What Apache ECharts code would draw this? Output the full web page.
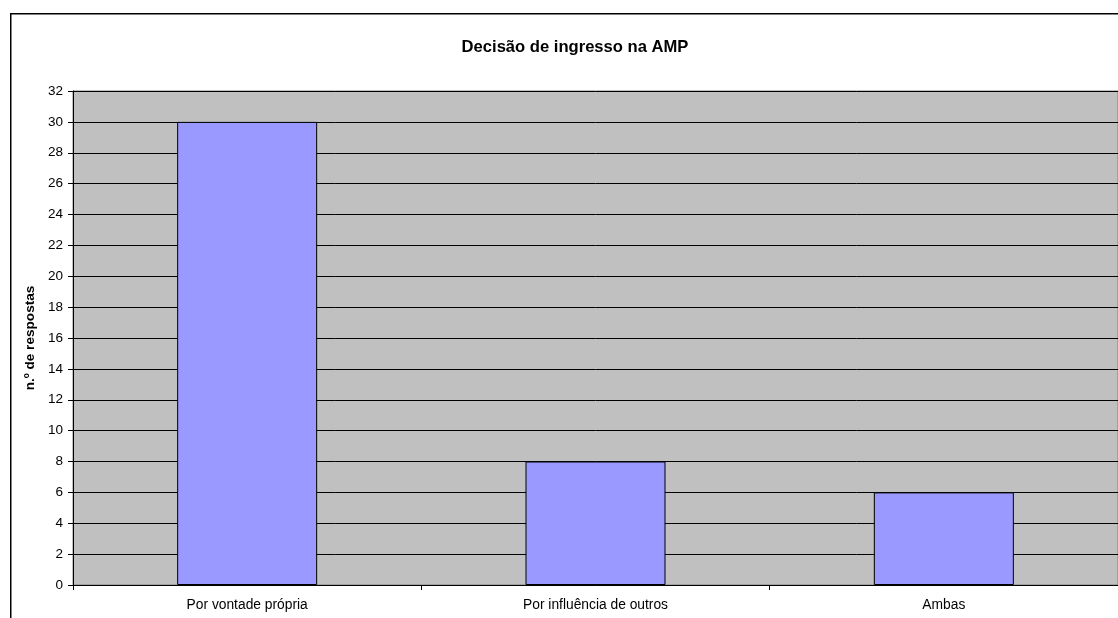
<!DOCTYPE html>
<html><head><meta charset="utf-8">
<script src="https://cdn.jsdelivr.net/npm/echarts@6/dist/echarts.min.js"></script>
<style>html,body{margin:0;padding:0;background:#fff}#c{width:1118px;height:618px}</style>
</head><body><div id="c"></div>
<script>
const titleText = 'Decisão de ingresso na AMP';
const yAxisName = 'n.º de respostas';
const categories = ['Por vontade própria', 'Por influência de outros', 'Ambas'];
const values = [30, 8, 6];

const FONT = 'Liberation Sans, Arial, sans-serif';
const chart = echarts.init(document.getElementById('c'), null, {renderer: 'canvas'});
chart.setOption({
  animation: false,
  textStyle: {fontFamily: FONT},
  title: {
    text: titleText, left: 570, top: 34, textAlign: 'center',
    textStyle: {fontSize: 16.6, fontWeight: 'bold', color: '#000', fontFamily: FONT}
  },
  graphic: [{
    type: 'rect', left: 10, top: 13, z: -10, silent: true,
    shape: {width: 1200, height: 700},
    style: {fill: '#fff', stroke: '#000', lineWidth: 1.5}
  }],
  grid: {
    left: 73, top: 91, width: 1047, bottom: 33,
    show: true, backgroundColor: '#c0c0c0', borderColor: '#808080', borderWidth: 1
  },
  xAxis: {
    type: 'category', data: categories,
    axisLine: {lineStyle: {color: '#000', width: 1}},
    axisTick: {show: true, alignWithLabel: false, length: 5, lineStyle: {color: '#000'}},
    axisLabel: {color: '#000', fontSize: 13.8, margin: 13, fontFamily: FONT}
  },
  yAxis: {
    type: 'value', min: 0, max: 32, interval: 2,
    name: yAxisName, nameLocation: 'middle', nameGap: 31, nameRotate: 90,
    nameTextStyle: {fontSize: 13.6, fontWeight: 'bold', color: '#000', fontFamily: FONT},
    axisLine: {show: true, lineStyle: {color: '#000', width: 1}},
    axisTick: {show: true, length: 5, lineStyle: {color: '#000'}},
    axisLabel: {color: '#000', fontSize: 13.5, margin: 10, fontFamily: FONT},
    splitLine: {show: true, lineStyle: {color: '#000', width: 1}}
  },
  series: [{
    type: 'bar', data: values, barWidth: 140,
    itemStyle: {color: '#9999ff', borderColor: '#000', borderWidth: 1}
  }]
});
</script></body></html>
